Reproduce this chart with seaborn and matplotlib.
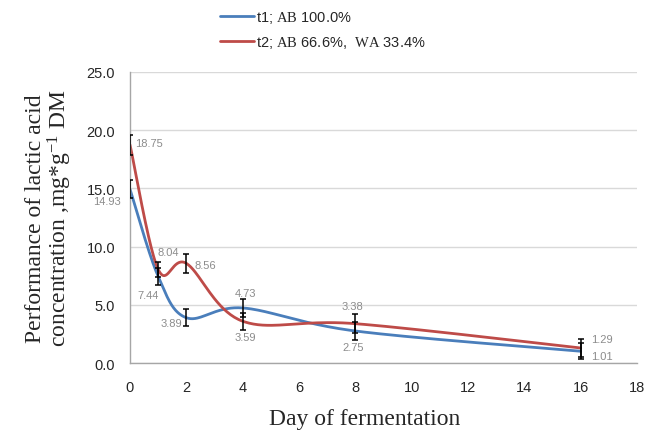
import numpy as np
import pandas as pd
import matplotlib
matplotlib.use("Agg")
import matplotlib.pyplot as plt
import seaborn as sns

# data
days = [0, 1, 2, 4, 8, 16]
t1_vals = [14.93, 7.44, 3.89, 4.73, 2.75, 1.01]
t2_vals = [18.75, 8.04, 8.56, 3.59, 3.38, 1.29]
t1_err = [0.75, 0.74, 0.75, 0.77, 0.75, 0.70]
t2_err = [0.86, 0.66, 0.82, 0.73, 0.83, 0.77]
t1_label = "t1; $\\mathrm{AB}$ 100.0%"
t2_label = "t2; $\\mathrm{AB}$ 66.6%,  $\\mathrm{WA}$ 33.4%"

# data label offsets in pixels (dx, dy, ha)
t1_lab_pos = [(-9, -12, "right"), (-10, -19, "center"), (-4, -5, "right"),
              (3, 15, "center"), (-2, -16, "center"), (10, -5, "left")]
t2_lab_pos = [(5, 2, "left"), (10, 17, "center"), (8, -2, "left"),
              (3, -16, "center"), (-3, 18, "center"), (10, 9, "left")]

sns.set_style("white")
plt.rcParams["font.family"] = ["Liberation Sans", "DejaVu Sans"]
plt.rcParams["mathtext.fontset"] = "custom"
plt.rcParams["mathtext.rm"] = "Liberation Serif"
plt.rcParams["mathtext.it"] = "Liberation Serif:italic"

fig = plt.figure(figsize=(6.46, 4.35), dpi=100)
ax = fig.add_axes([130 / 646, 1 - 364 / 435, 507 / 646, 291 / 435])
ax.set_xlim(0, 18)
ax.set_ylim(0, 25)

bb = ax.get_window_extent()
sx = bb.width / 18
sy = bb.height / 25


def smooth(xs, ys, n=40):
    # Excel-style smoothed line: Bezier through points in screen space
    p = np.column_stack([np.array(xs, float) * sx, np.array(ys, float) * sy])
    ext = np.vstack([p[0], p, p[-1]])
    out = []
    t = np.linspace(0, 1, n)[:, None]
    for i in range(len(p) - 1):
        p0, p1 = ext[i + 1], ext[i + 2]
        c1 = p0 + (ext[i + 2] - ext[i]) / 6
        c2 = p1 - (ext[i + 3] - ext[i + 1]) / 6
        seg = ((1 - t) ** 3) * p0 + 3 * ((1 - t) ** 2) * t * c1 + 3 * (1 - t) * t ** 2 * c2 + t ** 3 * p1
        out.append(seg if i == 0 else seg[1:])
    out = np.vstack(out)
    return out[:, 0] / sx, out[:, 1] / sy


blue = "#4a7ebb"
red = "#be4b48"

for vals, col, lab in [(t1_vals, blue, t1_label), (t2_vals, red, t2_label)]:
    cx, cy = smooth(days, vals)
    sns.lineplot(x=cx, y=cy, sort=False, estimator=None, color=col, lw=2.0,
                 label=lab, ax=ax, zorder=2)

ax.errorbar(days, t1_vals, yerr=t1_err, fmt="none", ecolor="black",
            elinewidth=1.1, capsize=2.4, capthick=1.1, zorder=4)
ax.errorbar(days, t2_vals, yerr=t2_err, fmt="none", ecolor="black",
            elinewidth=1.1, capsize=2.4, capthick=1.1, zorder=4)

for vals, pos in [(t1_vals, t1_lab_pos), (t2_vals, t2_lab_pos)]:
    for d, v, (dx, dy, ha) in zip(days, vals, pos):
        ax.annotate(f"{v:.2f}", (d, v), xytext=(dx, dy), textcoords="offset pixels",
                    ha=ha, va="center", fontsize=8, color="#8c8c8c")

if ax.get_legend() is not None:
    ax.get_legend().remove()

ax.set_xticks(range(0, 19, 2))
ax.set_yticks(np.arange(0, 26, 5))
ax.set_yticklabels([f"{v:.1f}" for v in np.arange(0, 26, 5)])
ax.yaxis.grid(True, color="#d9d9d9", lw=1)
ax.set_axisbelow(True)
for s in ["top", "right"]:
    ax.spines[s].set_visible(False)
for s in ["left", "bottom"]:
    ax.spines[s].set_color("#a6a6a6")
    ax.spines[s].set_linewidth(1)
ax.tick_params(axis="y", length=4.3, width=1, color="#d9d9d9", pad=6.5, labelsize=10.5)
ax.tick_params(axis="x", length=3, width=1, color="#a6a6a6", pad=9, labelsize=10.5)

ax.set_xlabel("Day of fermentation", family="Liberation Serif", fontsize=17)
ax.xaxis.set_label_coords(0.4635, -0.155)
ax.set_ylabel("Performance of lactic acid\nconcentration ,mg*g$^{-1}$ DM",
              family="Liberation Serif", fontsize=17, linespacing=1.0)
ax.yaxis.set_label_coords(-0.11, 0.5)

h, l = ax.get_legend_handles_labels()
fig.legend(h, l, loc="upper left", bbox_to_anchor=(220 / 646, 1 - 10 / 435),
           frameon=False, fontsize=10.5, handlelength=2.3, handletextpad=0.15,
           borderpad=0, borderaxespad=0, labelspacing=0.6)

fig.savefig("out.png", dpi=100)
